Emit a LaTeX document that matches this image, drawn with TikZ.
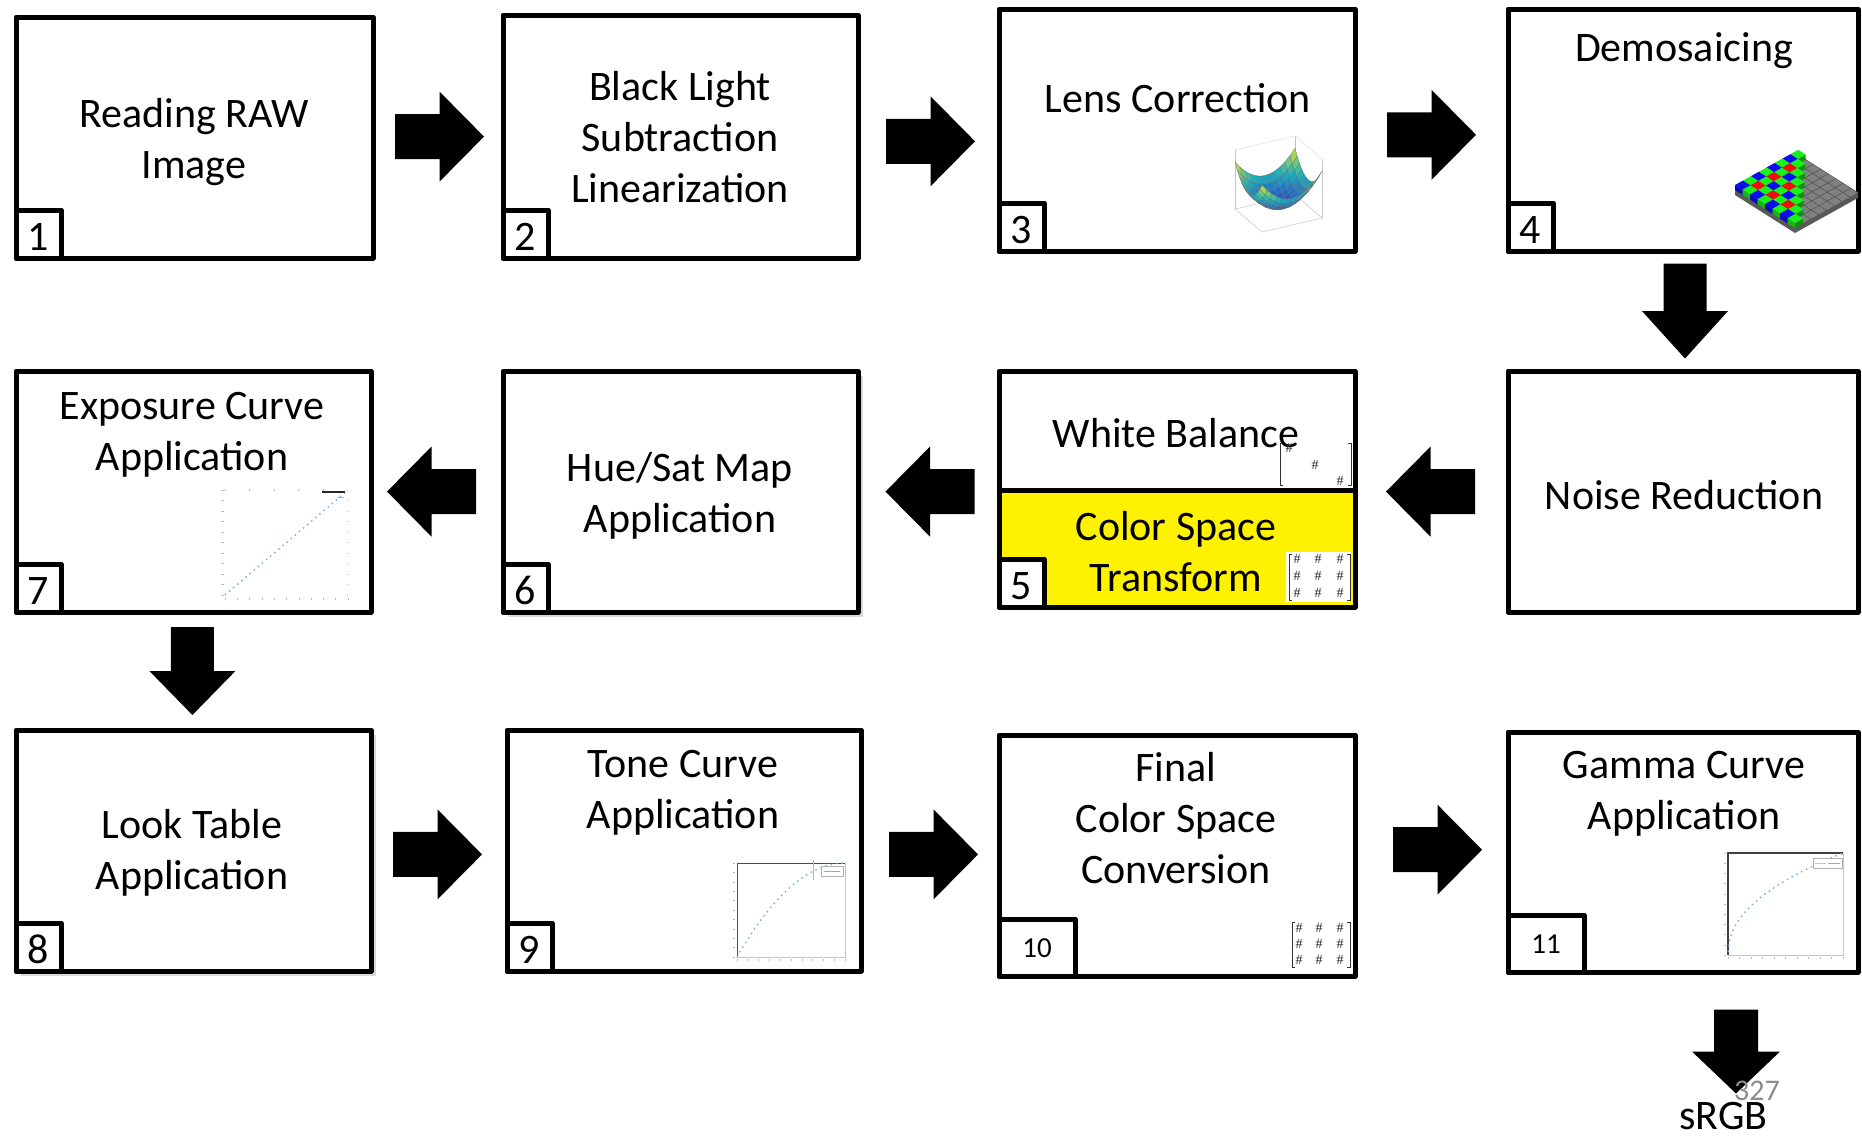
\documentclass[tikz,border=0pt]{standalone}
\usepackage{fontspec}
\setmainfont{Carlito}
\newfontfamily\hashfont{Liberation Serif}
\usetikzlibrary{fit,shadows}

\definecolor{plotblue}{rgb}{0.42,0.68,0.9}
\definecolor{bayerG}{rgb}{0.1,0.95,0.1}
\definecolor{bayerR}{rgb}{0.95,0.05,0.05}
\definecolor{bayerB}{rgb}{0.05,0.05,0.95}
\definecolor{plate}{gray}{0.5}
\definecolor{pagegray}{gray}{0.55}

\newcommand\stagefont{\fontsize{21}{25.5}\selectfont}
\newcommand\smallnumfont{\fontsize{14.5}{17}\selectfont}

\tikzset{
  declare function={
    surfx(\x,\y)=13.5*\x+30*\y;
    surfy(\x,\y)=11.5*\x-7*\y-20.5*(\x*\x+\y*\y);
    floory(\x,\y)=11.5*\x-7*\y+6;
    topy(\x,\y)=11.5*\x-7*\y-53;
  },
  pics/blockarrow/.style n args={2}{code={
    \fill[black] (-#1/2,-#2/4) -- (0,-#2/4) -- (0,-#2/2) -- (#1/2,0)
      -- (0,#2/2) -- (0,#2/4) -- (-#1/2,#2/4) -- cycle;}},
  pics/downarrow/.style n args={2}{code={
    \fill[black] (-#2/4,-#1/2) -- (#2/4,-#1/2) -- (#2/4,0) -- (#2/2,0)
      -- (0,#1/2) -- (-#2/2,0) -- (-#2/4,0) -- cycle;}},
}

\begin{document}
\begin{tikzpicture}[x=0.5pt,y=-0.5pt,
  stage/.style={draw, line width=2.5pt, line join=round, inner sep=0pt, fill=white},
  shadowed/.style={drop shadow={shadow xshift=1.2pt, shadow yshift=-1.2pt, fill=black, opacity=0.25},
                   drop shadow={shadow xshift=2.4pt, shadow yshift=-2.4pt, fill=black, opacity=0.15}},
  numbox/.style={draw, line width=2.5pt, line join=round, fill=white, inner sep=0pt,
                 minimum width=22.5pt, minimum height=24pt, anchor=south west, font=\stagefont,
                 text height=16pt, text depth=0pt},
  bignumbox/.style={numbox, minimum width=38pt, minimum height=28.5pt, font=\smallnumfont,
                    text height=9.5pt, text depth=0pt},
  stagetext/.style={align=center, font=\stagefont, inner sep=0pt,
                    execute at begin node=\strut, execute at end node=\strut},
  hash/.style={font=\hashfont\fontsize{7}{8}\selectfont, text=black!85, inner sep=0pt},
  bracket/.style={draw=black!80, line width=0.45pt},
  tick/.style={draw=gray!55, line width=0.3pt},
  curve/.style={draw=plotblue, dotted, line width=0.7pt},
]
\useasboundingbox (0,0) rectangle (1862,1136);
\fill[white] (0,0) rectangle (1862,1136);

% ---------- stage boxes ----------
\node[stage, fit={(16,17)(373,258)}] (b1) {};
\node[stage, fit={(503,15)(858,258)}] (b2) {};
\node[stage, fit={(999,9)(1355,251)}] (b3) {};
\node[stage, fit={(1508,9)(1858,251)}] (b4) {};

\node[stage, fit={(16,371)(371,612)}] (b7) {};
\node[stage, shadowed, fit={(503,371)(858,612)}] (b6) {};
\fill[yellow] (999,490) rectangle (1355,607);
\node[stage, fill=none, fit={(999,371)(1355,607)}] (b5) {};
\coordinate (sep) at (0,490);
\draw[line width=2.5pt] (b5.west |- sep) -- (b5.east |- sep);
\node[stage, fit={(1508,371)(1858,612)}] (bn) {};

\node[stage, shadowed, fit={(16,730)(371,971)}] (b8) {};
\node[stage, fit={(507,730)(861,971)}] (b9) {};
\node[stage, fit={(999,735)(1355,976)}] (b10) {};
\node[stage, fit={(1508,732)(1858,972)}] (b11) {};

% ---------- step numbers ----------
\node[numbox] (n1) at (b1.south west) {1};
\node[numbox] (n2) at (b2.south west) {2};
\node[numbox] (n3) at (b3.south west) {3};
\node[numbox] (n4) at (b4.south west) {4};
\node[numbox] (n5) at (b5.south west) {5};
\node[numbox] (n6) at (b6.south west) {6};
\node[numbox] (n7) at (b7.south west) {7};
\node[numbox] (n8) at (b8.south west) {8};
\node[numbox] (n9) at (b9.south west) {9};
\node[bignumbox] (n10) at (b10.south west) {10};
\node[bignumbox] (n11) at (b11.south west) {11};

% ---------- stage titles ----------
\node[stagetext] (t1) at (194,146) {Reading RAW\\Image};
\node[stagetext] (t2) at (680,145) {Black Light\\Subtraction\\Linearization};
\node[stagetext] (t3) at (1178,102) {Lens Correction};
\node[stagetext] (t4) at (1684,51) {Demosaicing};
\node[stagetext] (t7) at (192,439) {Exposure Curve\\Application};
\node[stagetext] (t6) at (680,500) {Hue/Sat Map\\Application};
\node[stagetext] (t5a) at (1176,437) {White Balance};
\node[stagetext] (t5b) at (1176,559) {Color Space\\Transform};
\node[stagetext] (tn) at (1684,499) {Noise Reduction};
\node[stagetext] (t8) at (192,857) {Look Table\\Application};
\node[stagetext] (t9) at (683,797) {Tone Curve\\Application};
\node[stagetext] (t10) at (1176,826) {Final\\Color Space\\Conversion};
\node[stagetext] (t11) at (1684,798) {Gamma Curve\\Application};

% ---------- flow arrows ----------
\pic at (439.5,136.6) {blockarrow={89}{90}};
\pic at (930.5,141.3) {blockarrow={89}{90}};
\pic at (1431.5,134.8) {blockarrow={89}{90}};
\pic at (1685,311) {downarrow={95}{86}};
\pic[xscale=-1] at (1430.5,491.6) {blockarrow={89}{90}};
\pic[xscale=-1] at (930,491.6) {blockarrow={89}{90}};
\pic[xscale=-1] at (431.5,491.6) {blockarrow={89}{90}};
\pic at (192.4,671) {downarrow={88}{86}};
\pic at (437.5,854.4) {blockarrow={89}{90}};
\pic at (933.5,854.4) {blockarrow={89}{90}};
\pic at (1437.5,849.7) {blockarrow={89}{90}};
\pic at (1736,1051.5) {downarrow={84}{88}};

\node[font=\stagefont, anchor=base, inner sep=0pt] (out) at (1723.5,1129) {sRGB};
\node[font=\fontsize{15}{17}\selectfont, text=pagegray, anchor=base, inner sep=0pt] (pg) at (1757,1100) {327};

% ---------- lens shading surface ----------
\begin{scope}[shift={(1278.5,207.5)}]
  \draw[gray!45, line width=0.25pt]
    ({surfx(-1,-1)},{floory(-1,-1)}) -- ({surfx(1,-1)},{floory(1,-1)})
    -- ({surfx(1,1)},{floory(1,1)}) -- ({surfx(-1,1)},{floory(-1,1)}) -- cycle;
  \foreach \a/\b in {-1/-1,-1/1,1/1}
    \draw[gray!45, line width=0.25pt] ({surfx(\a,\b)},{floory(\a,\b)}) -- ({surfx(\a,\b)},{topy(\a,\b)});
  \draw[gray!30, line width=0.2pt] ({surfx(-1,1)},{topy(-1,1)}) -- ({surfx(1,1)},{topy(1,1)});
  \draw[gray!30, line width=0.2pt] ({surfx(-1,1)},{topy(-1,1)}) -- ({surfx(-1,-1)},{topy(-1,-1)});
  \foreach \i in {0,...,11}{
    \foreach \j in {11,...,0}{
      \pgfmathsetmacro\xa{-1+\i/6}
      \pgfmathsetmacro\xb{-1+(\i+1)/6}
      \pgfmathsetmacro\ya{-1+\j/6}
      \pgfmathsetmacro\yb{-1+(\j+1)/6}
      \pgfmathsetmacro\tval{(((\xa+\xb)/2)*((\xa+\xb)/2)+((\ya+\yb)/2)*((\ya+\yb)/2))/2}
      \pgfmathsetmacro\segA{2*min(\tval,0.5)}
      \pgfmathsetmacro\segB{2*max(\tval-0.5,0)}
      \pgfmathsetmacro\colr{0.15-0.05*\segA+0.8*\segB}
      \pgfmathsetmacro\colg{0.25+0.45*\segA+0.2*\segB}
      \pgfmathsetmacro\colb{0.8-0.05*\segA-0.6*\segB}
      \definecolor{surfcol}{rgb}{\colr,\colg,\colb}
      \filldraw[fill=surfcol, draw=black!55, line width=0.12pt]
        ({surfx(\xa,\ya)},{surfy(\xa,\ya)}) -- ({surfx(\xb,\ya)},{surfy(\xb,\ya)})
        -- ({surfx(\xb,\yb)},{surfy(\xb,\yb)}) -- ({surfx(\xa,\yb)},{surfy(\xa,\yb)}) -- cycle;
    }
  }
\end{scope}

% ---------- Bayer mosaic (isometric sensor) ----------
\begin{scope}[shift={(1735,190)}]
\begin{scope}[x={(3.95pt,2.2pt)}, y={(3.75pt,-2.375pt)}, z={(0pt,2.5pt)}]
  \fill[plate!70!black] (0,0,0) -- (0,8,0) -- (8,8,0) -- (8,8,-1) -- (0,8,-1) -- (0,0,-1) -- cycle;
  \fill[plate] (0,0,0) -- (8,0,0) -- (8,8,0) -- (0,8,0) -- cycle;
  \foreach \k in {0,...,8}{
    \draw[plate!55!black, line width=0.2pt] (\k,0,0) -- (\k,8,0);
    \draw[plate!55!black, line width=0.2pt] (0,\k,0) -- (8,\k,0);
  }
  \foreach \j in {0,...,7}{
    \foreach \i in {7,...,0}{
      \ifnum\numexpr\i+\j\relax<8
        \ifodd\numexpr\i+\j\relax \colorlet{cellcol}{bayerG}%
        \else\ifodd\i\relax \colorlet{cellcol}{bayerR}\else \colorlet{cellcol}{bayerB}\fi\fi
        \fill[cellcol!75!black] (\i,\j,0) -- (\i,\j+1,0) -- (\i,\j+1,1) -- (\i,\j,1) -- cycle;
        \fill[cellcol!60!black] (\i,\j+1,0) -- (\i+1,\j+1,0) -- (\i+1,\j+1,1) -- (\i,\j+1,1) -- cycle;
        \fill[cellcol] (\i,\j,1) -- (\i+1,\j,1) -- (\i+1,\j+1,1) -- (\i,\j+1,1) -- cycle;
      \fi
    }
  }
\end{scope}
\end{scope}

% ---------- white balance matrix ----------
\draw[bracket] (1283,443) -- (1280,443) -- (1280,485) -- (1283,485);
\draw[bracket] (1348,443) -- (1351,443) -- (1351,485) -- (1348,485);
\node[hash] (wb1) at (1289,448) {\#};
\node[hash] (wb2) at (1315,465) {\#};
\node[hash] (wb3) at (1340,481) {\#};

% ---------- colour transform matrix ----------
\fill[white] (1286,552) rectangle (1351,602);
\draw[bracket] (1292,554) -- (1289,554) -- (1289,600) -- (1292,600);
\draw[bracket] (1347,554) -- (1350,554) -- (1350,600) -- (1347,600);
\foreach \cx in {1297,1318,1340}
  \foreach \cy in {559,576,593}
    \node[hash] (ct-\cx-\cy) at (\cx,\cy) {\#};

% ---------- final conversion matrix ----------
\draw[bracket] (1295,922) -- (1292,922) -- (1292,967) -- (1295,967);
\draw[bracket] (1347,922) -- (1350,922) -- (1350,967) -- (1347,967);
\foreach \cx in {1299,1319,1340}
  \foreach \cy in {928,944,960}
    \node[hash] (fc-\cx-\cy) at (\cx,\cy) {\#};

% ---------- exposure curve plot ----------
\foreach \k in {0,...,10}{
  \draw[tick] (221,{595-10.5*\k}) -- (224,{595-10.5*\k});
  \draw[tick] ({225+12.3*\k},598) -- ({225+12.3*\k},600);
  \draw[tick] (347,{595-10.5*\k}) -- (348,{595-10.5*\k});
}
\foreach \k in {0,...,4} \fill[black!55] ({225+24.6*\k},490) circle (0.7);
\draw[curve] (225,595) -- (348,490);
\draw[black!85, line width=0.7pt] (322,492) -- (345,492);
\draw[gray!60, line width=0.3pt] (337,497) -- (344,497);

% ---------- tone curve plot ----------
\draw[gray!45, line width=0.3pt] (845,863) -- (845,957) -- (737,957);
\draw[black!70, line width=0.5pt] (737,957) -- (737,863) -- (845,863);
\foreach \k in {0,...,10}{
  \draw[tick] (735,{957-9.4*\k}) -- (733,{957-9.4*\k});
  \draw[tick] ({737+10.8*\k},959) -- ({737+10.8*\k},961);
}
\draw[curve] plot[domain=0:1, samples=50, smooth] ({737+108*\x},{957-94*(1-(1-\x)*(1-\x))});
\draw[gray!60, line width=0.3pt] (813,860) -- (813,880);
\draw[gray!60, line width=0.25pt, fill=white] (821,866) rectangle (843,876);
\draw[gray!70, line width=0.3pt] (824,871) -- (840,871);

% ---------- gamma curve plot ----------
\draw[gray!45, line width=0.3pt] (1843,853) -- (1843,955) -- (1728,955);
\draw[black!75, line width=0.6pt] (1728,955) -- (1728,853) -- (1843,853);
\foreach \k in {0,...,10}{
  \draw[tick] (1726,{955-10.2*\k}) -- (1724,{955-10.2*\k});
  \draw[tick] ({1728+11.5*\k},957) -- ({1728+11.5*\k},959);
}
\draw[curve] plot[domain=0.0005:1, samples=80, smooth] ({1728+115*\x},{955-102*(\x^(1/2.2))});
\draw[gray!60, line width=0.25pt, fill=white] (1813,858) rectangle (1842,868);
\draw[plotblue!60, line width=0.4pt] (1815,863) -- (1826,863);
\draw[gray!70, line width=0.3pt] (1828,863) -- (1840,863);

\end{tikzpicture}
\end{document}
